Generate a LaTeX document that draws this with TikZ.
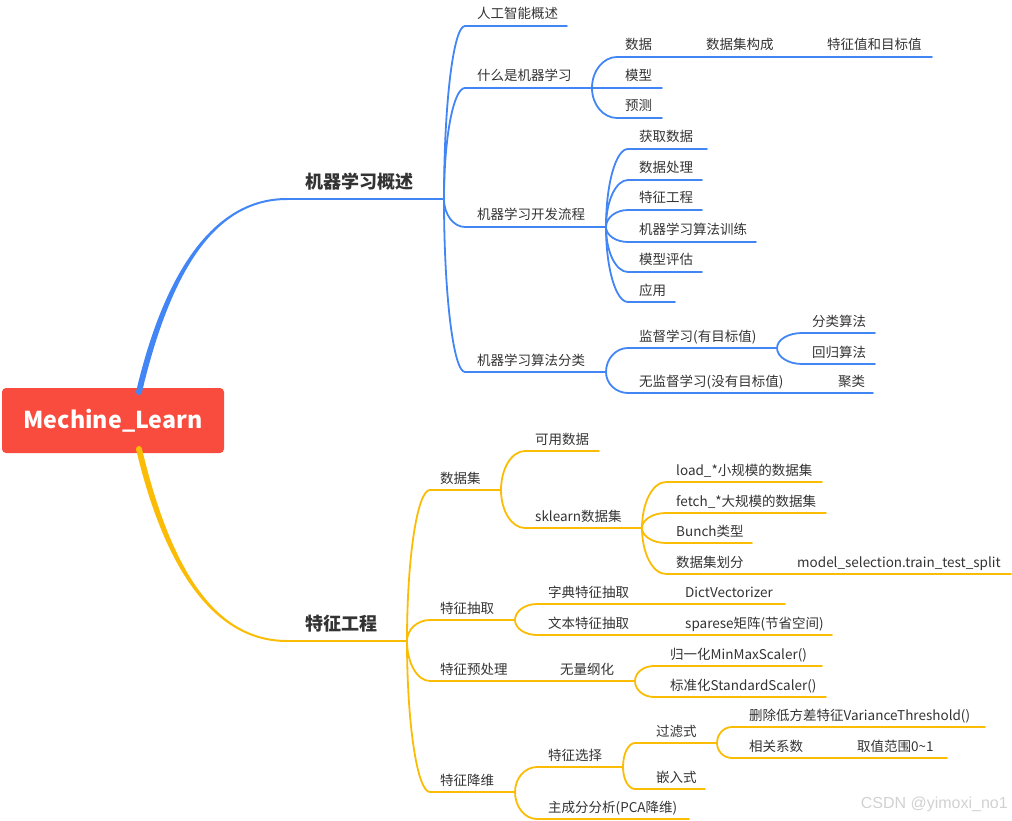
\documentclass[tikz,border=0pt]{standalone}
\usepackage{fontspec}
\usetikzlibrary{calc}
\setmainfont{Noto Sans CJK SC}
\newfontfamily\wmfont{Liberation Sans}
\definecolor{mmblue}{RGB}{66,133,244}
\definecolor{mmyellow}{RGB}{251,188,5}
\definecolor{mmred}{RGB}{249,76,62}
\definecolor{mmtextc}{RGB}{51,51,51}
\tikzset{
  mmline/.style={line width=1.8pt,line cap=round},
  mmtext/.style={inner sep=0pt,text=mmtextc,font=\fontsize{13.5}{16}\selectfont},
  l1text/.style={inner sep=0pt,text=mmtextc,font=\fontsize{18}{22}\selectfont\bfseries},
  rootbox/.style={fill=mmred,rounded corners=4pt,minimum width=222pt,minimum height=65pt,
    text=white,font=\fontsize{23.2}{28}\selectfont\bfseries,inner sep=0pt},
  wmtext/.style={inner sep=0pt,text=black!18,font=\wmfont\fontsize{16}{18}\selectfont}
}
% name, x0, x1, y, text x, text, colour
\newcommand\mmn[7]{%
  \coordinate (#1-l) at (#2,#4);
  \coordinate (#1-r) at (#3,#4);
  \draw[mmline,#7] (#1-l) -- (#1-r);
  \node[mmtext,anchor=base west] (#1) at (#5,#4-7) {#6};
}
% hub, child, colour (quarter-ellipse connector)
\newcommand\mmc[3]{\draw[mmline,#3] (#1) .. controls ($(#1)!0.552!(#1 |- #2)$) and ($(#2)!0.552!(#1 |- #2)$) .. (#2);}
\begin{document}
\begin{tikzpicture}[x=1pt,y=-1pt]
\useasboundingbox (0,0) rectangle (1012,821);
% root
\node[rootbox] (root) at (113,420.5) {Mechine\_Learn};
% level-1 branches (tapered)
\coordinate (bT) at (139,392);
\coordinate (yT) at (139,449);
\fill[mmblue] (136,392) .. controls (167,260) and (220,198) .. (287,198) -- (287,200) .. controls (220,200) and (173,261) .. (142,392) -- cycle;
\fill[mmblue] (bT) circle (3);
\fill[mmyellow] (136,449) .. controls (167,580) and (220,642) .. (287,642) -- (287,640) .. controls (220,640) and (173,579) .. (142,449) -- cycle;
\fill[mmyellow] (yT) circle (3);
\coordinate (ml-l) at (287,199); \coordinate (ml-r) at (444,199);
\draw[mmline,mmblue,line cap=butt] (ml-l) -- (ml-r);
\node[l1text,anchor=base west] (ml) at (305,189) {机器学习概述};
\coordinate (fe-l) at (287,641); \coordinate (fe-r) at (407,641);
\draw[mmline,mmyellow,line cap=butt] (fe-l) -- (fe-r);
\node[l1text,anchor=base west] (fe) at (305,630) {特征工程};

% ---------------- blue part
\mmn{b1}{465}{567}{26}{477}{人工智能概述}{mmblue}
\mmn{b2}{465}{592}{88}{477}{什么是机器学习}{mmblue}
\mmn{b3}{465}{606}{227}{477}{机器学习开发流程}{mmblue}
\mmn{b4}{465}{606}{372}{477}{机器学习算法分类}{mmblue}
\mmc{ml-r}{b1-l}{mmblue}
\mmc{ml-r}{b2-l}{mmblue}
\mmc{ml-r}{b3-l}{mmblue}
\mmc{ml-r}{b4-l}{mmblue}

\mmn{b21}{617}{662}{57}{625}{数据}{mmblue}
\mmn{b211}{696}{782}{57}{706}{数据集构成}{mmblue}
\mmn{b2111}{817}{932}{57}{827}{特征值和目标值}{mmblue}
\mmn{b22}{617}{662}{88}{625}{模型}{mmblue}
\mmn{b23}{617}{662}{118}{625}{预测}{mmblue}
\mmc{b2-r}{b21-l}{mmblue}
\draw[mmline,mmblue] (b2-r) -- (b22-l);
\mmc{b2-r}{b23-l}{mmblue}
\draw[mmline,mmblue] (b21-r) -- (b211-l);
\draw[mmline,mmblue] (b211-r) -- (b2111-l);

\mmn{b31}{628}{707}{149}{639}{获取数据}{mmblue}
\mmn{b32}{628}{702}{180}{639}{数据处理}{mmblue}
\mmn{b33}{628}{702}{210}{639}{特征工程}{mmblue}
\mmn{b34}{628}{756}{242}{639}{机器学习算法训练}{mmblue}
\mmn{b35}{628}{702}{272}{639}{模型评估}{mmblue}
\mmn{b36}{628}{675}{302}{639}{应用}{mmblue}
\foreach \c in {b31,b32,b33,b34,b35,b36} {\mmc{b3-r}{\c-l}{mmblue}}

\mmn{b41}{628}{777}{348}{639}{监督学习(有目标值)}{mmblue}
\mmn{b42}{628}{793}{393}{639}{无监督学习(没有目标值)}{mmblue}
\mmc{b4-r}{b41-l}{mmblue}
\mmc{b4-r}{b42-l}{mmblue}
\mmn{b411}{802}{875}{333}{812}{分类算法}{mmblue}
\mmn{b412}{802}{875}{364}{812}{回归算法}{mmblue}
\mmc{b41-r}{b411-l}{mmblue}
\mmc{b41-r}{b412-l}{mmblue}
\mmn{b421}{829}{873}{393}{838}{聚类}{mmblue}
\draw[mmline,mmblue] (b42-r) -- (b421-l);

% ---------------- yellow part
\mmn{y1}{430}{501}{490}{440}{数据集}{mmyellow}
\mmn{y2}{430}{515}{620}{440}{特征抽取}{mmyellow}
\mmn{y3}{430}{550}{681}{440}{特征预处理}{mmyellow}
\mmn{y4}{430}{515}{792}{440}{特征降维}{mmyellow}
\foreach \c in {y1,y2,y3,y4} {\mmc{fe-r}{\c-l}{mmyellow}}

\mmn{y11}{525}{599}{451}{535}{可用数据}{mmyellow}
\mmn{y12}{525}{642}{528}{535}{sklearn数据集}{mmyellow}
\mmc{y1-r}{y11-l}{mmyellow}
\mmc{y1-r}{y12-l}{mmyellow}
\mmn{y121}{666}{822}{482}{676}{load\_*小规模的数据集}{mmyellow}
\mmn{y122}{666}{826}{513}{676}{fetch\_*大规模的数据集}{mmyellow}
\mmn{y123}{666}{752}{543}{676}{Bunch类型}{mmyellow}
\mmn{y124}{666}{770}{574}{676}{数据集划分}{mmyellow}
\foreach \c in {y121,y122,y123,y124} {\mmc{y12-r}{\c-l}{mmyellow}}
\mmn{y1241}{787}{1011}{574}{797}{model\_selection.train\_test\_split}{mmyellow}
\draw[mmline,mmyellow] (y124-r) -- (y1241-l);

\mmn{y21}{537}{665}{604}{548}{字典特征抽取}{mmyellow}
\mmn{y22}{537}{665}{635}{548}{文本特征抽取}{mmyellow}
\mmc{y2-r}{y21-l}{mmyellow}
\mmc{y2-r}{y22-l}{mmyellow}
\mmn{y211}{675}{785}{604}{685}{DictVectorizer}{mmyellow}
\mmn{y221}{675}{832}{635}{685}{sparese矩阵(节省空间)}{mmyellow}
\draw[mmline,mmyellow] (y21-r) -- (y211-l);
\draw[mmline,mmyellow] (y22-r) -- (y221-l);

\mmn{y31}{550}{635}{681}{560}{无量纲化}{mmyellow}
\draw[mmline,mmyellow] (y3-r) -- (y31-l);
\mmn{y311}{654}{822}{666}{670}{归一化MinMaxScaler()}{mmyellow}
\mmn{y312}{654}{826}{697}{670}{标准化StandardScaler()}{mmyellow}
\mmc{y31-r}{y311-l}{mmyellow}
\mmc{y31-r}{y312-l}{mmyellow}

\mmn{y41}{537}{623}{767}{548}{特征选择}{mmyellow}
\mmn{y42}{537}{689}{819}{548}{主成分分析(PCA降维)}{mmyellow}
\mmc{y4-r}{y41-l}{mmyellow}
\mmc{y4-r}{y42-l}{mmyellow}
\mmn{y411}{635}{717}{743}{656}{过滤式}{mmyellow}
\mmn{y412}{635}{705}{789}{656}{嵌入式}{mmyellow}
\mmc{y41-r}{y411-l}{mmyellow}
\mmc{y41-r}{y412-l}{mmyellow}
\mmn{y4111}{732}{985}{727}{749}{删除低方差特征VarianceThreshold()}{mmyellow}
\mmn{y4112}{732}{840}{758}{749}{相关系数}{mmyellow}
\mmc{y411-r}{y4111-l}{mmyellow}
\mmc{y411-r}{y4112-l}{mmyellow}
\mmn{y41121}{847}{947}{758}{857}{取值范围0\textasciitilde1}{mmyellow}
\draw[mmline,mmyellow] (y4112-r) -- (y41121-l);

% watermark
\node[wmtext,anchor=base east] (wm) at (1008,808) {CSDN @yimoxi\_no1};
\end{tikzpicture}
\end{document}
